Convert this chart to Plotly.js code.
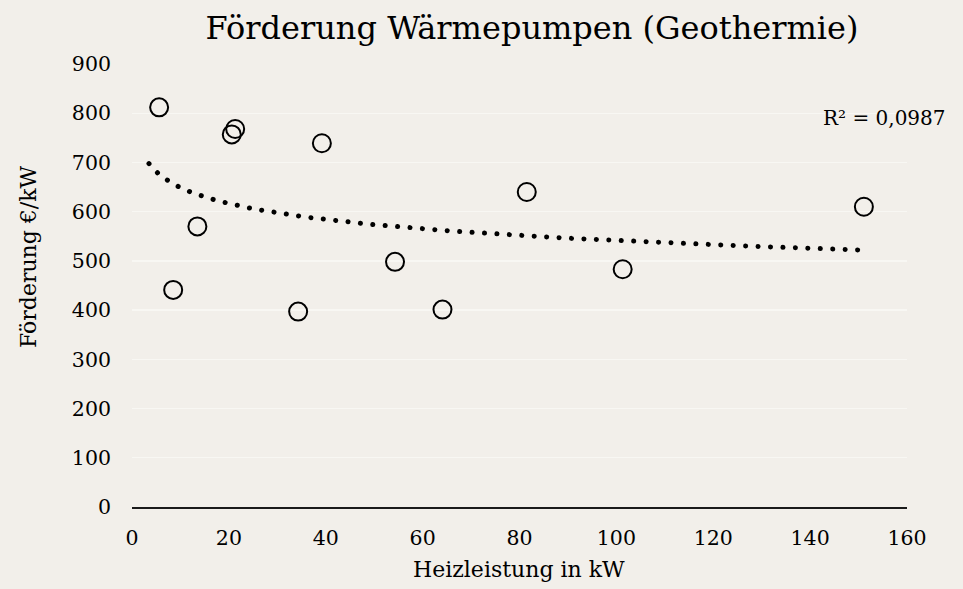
<!DOCTYPE html>
<html>
<head>
<meta charset="utf-8">
<script src="https://cdn.plot.ly/plotly-3.0.1.min.js"></script>
<style>
  html, body { margin: 0; padding: 0; background: #f2efea; }
  #chart { width: 963px; height: 589px; }
</style>
</head>
<body>
<div id="chart"></div>
<script>
// Data
const heizleistung = [5.6, 8.5, 13.5, 20.6, 21.3, 34.3, 39.2, 54.3, 64.1, 81.5, 101.3, 151.1]; // kW
const foerderung   = [812, 441, 570, 757, 768, 397, 739, 498, 401, 640, 483, 610];           // €/kW
const trendRange   = [3.5, 150.2];   // span of the drawn logarithmic trendline (kW)
const r2Label      = "R² = 0,0987";
const xTicks = [0, 20, 40, 60, 80, 100, 120, 140, 160];
const yTicks = [0, 100, 200, 300, 400, 500, 600, 700, 800, 900];

// Logarithmic least-squares fit y = a*ln(x) + b (as Excel's log trendline)
const lx = heizleistung.map(Math.log);
const n = lx.length;
const mL = lx.reduce((s, v) => s + v, 0) / n;
const mY = foerderung.reduce((s, v) => s + v, 0) / n;
let sxy = 0, sxx = 0;
for (let i = 0; i < n; i++) { sxy += (lx[i] - mL) * (foerderung[i] - mY); sxx += (lx[i] - mL) ** 2; }
const a = sxy / sxx, b = mY - a * mL;
const trendX = [], trendY = [];
const steps = 300;
for (let i = 0; i <= steps; i++) {
  const x = trendRange[0] + (trendRange[1] - trendRange[0]) * i / steps;
  trendX.push(x); trendY.push(a * Math.log(x) + b);
}

const FONT = "DejaVu Serif, Liberation Serif, serif";
const bg = "#f2efea";
const W = 963, H = 589;

const traces = [
  {
    x: trendX, y: trendY, type: "scatter", mode: "lines",
    line: { color: "#000000", width: 5, dash: "0.1px,12.35px" },
    hoverinfo: "skip", showlegend: false
  },
  {
    x: heizleistung, y: foerderung, type: "scatter", mode: "markers",
    marker: { symbol: "circle-open", size: 18, color: "#000000", line: { width: 2, color: "#000000" } },
    showlegend: false
  }
];

const layout = {
  width: W, height: H,
  paper_bgcolor: bg, plot_bgcolor: bg,
  margin: { l: 132, r: 56, t: 64, b: 82 },
  font: { family: FONT, color: "#000000", size: 20 },
  title: {
    text: "Förderung Wärmepumpen (Geothermie)",
    font: { family: FONT, size: 32, color: "#000000" },
    x: 532 / W, xanchor: "center", xref: "container",
    y: 1 - 28 / H, yanchor: "middle", yref: "container"
  },
  xaxis: {
    range: [0, 160], tickvals: xTicks, ticktext: xTicks.map(String),
    showgrid: false, zeroline: false, showline: true, linecolor: "#1a1a1a", linewidth: 2,
    ticks: "", ticklabelstandoff: 11,
    tickfont: { family: FONT, size: 20.5 }
  },
  yaxis: {
    range: [0, 900], tickvals: yTicks, ticktext: yTicks.map(String),
    showgrid: true, gridcolor: "#f8f7f3", gridwidth: 1.3,
    zeroline: false, showline: false, ticks: "", ticklabelstandoff: 20,
    tickfont: { family: FONT, size: 20.5 }
  },
  annotations: [
    { // R² label of the trendline
      text: r2Label, px: 884, py: 118, xanchor: "center", yanchor: "middle",
      showarrow: false, font: { family: FONT, size: 20, color: "#000000" }
    },
    { // x axis title
      text: "Heizleistung in kW", px: 519, py: 569, xanchor: "center", yanchor: "middle",
      showarrow: false, font: { family: FONT, size: 22, color: "#000000" }
    },
    { // y axis title
      text: "Förderung €/kW", px: 28, py: 257, xanchor: "center", yanchor: "middle",
      textangle: -90, showarrow: false, font: { family: FONT, size: 22, color: "#000000" }
    }
  ]
};

// annotation pixel positions -> paper coordinates
layout.annotations.forEach(an => {
  an.xref = "paper"; an.yref = "paper";
  const m = layout.margin, pw = W - m.l - m.r, ph = H - m.t - m.b;
  an.x = (an.px - m.l) / pw;
  an.y = 1 - (an.py - m.t) / ph;
  delete an.px; delete an.py;
});

Plotly.newPlot("chart", traces, layout, { displayModeBar: false, staticPlot: true }).then(gd => {
  const lines = gd.querySelectorAll(".scatterlayer .trace path.js-line");
  lines.forEach(p => { p.style.strokeLinecap = "round"; });
});
</script>
</body>
</html>
